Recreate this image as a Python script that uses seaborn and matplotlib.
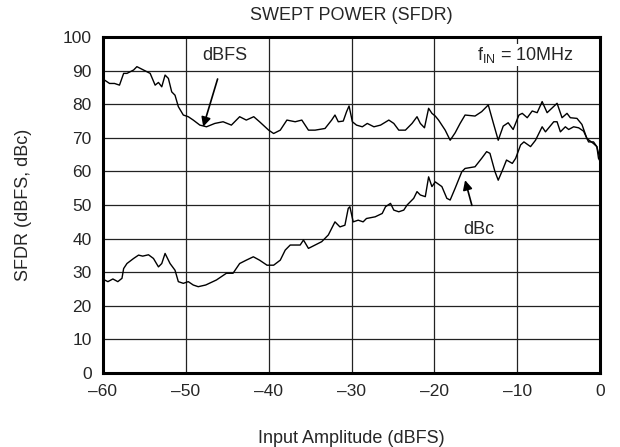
import numpy as np
import pandas as pd
import matplotlib
matplotlib.use('Agg')
import matplotlib.pyplot as plt
import seaborn as sns

# curve values
dbfs_x = [-60.0, -59.8, -59.2, -58.6, -58.0, -57.5, -57.1, -56.3, -55.9, -55.1,
          -54.3, -53.7, -53.3, -52.9, -52.5, -52.1, -51.7, -51.3, -50.9, -50.3,
          -49.7, -49.1, -48.3, -47.5, -46.5, -45.5, -44.5, -43.9, -43.5, -42.7,
          -41.8, -41.1, -40.0, -39.4, -38.6, -37.8, -36.8, -36.0, -35.2, -34.4,
          -33.2, -32.4, -32.0, -31.6, -31.0, -30.6, -30.3, -29.9, -29.4, -28.7,
          -28.1, -27.3, -26.5, -25.5, -24.9, -24.3, -23.5, -22.7, -22.1, -21.7,
          -21.2, -20.7, -20.3, -19.9, -19.5, -18.7, -18.1, -17.5, -16.9, -16.3,
          -15.1, -14.3, -13.5, -12.9, -12.3, -11.7, -11.1, -10.5, -9.8, -9.4,
          -8.8, -8.2, -7.6, -7.0, -6.4, -5.2, -4.6, -4.0, -3.6, -2.8,
          -2.2, -1.6, -0.8, -0.4, -0.1, 0.0]
dbfs_y = [87.5, 87.2, 86.2, 86.2, 85.7, 89.2, 89.2, 90.2, 91.2, 90.2,
          89.2, 85.7, 86.5, 85.2, 88.7, 87.7, 83.7, 82.7, 79.3, 76.8,
          76.3, 75.3, 73.8, 73.3, 74.3, 74.8, 73.8, 75.3, 76.3, 75.3,
          76.3, 74.8, 72.3, 71.3, 72.3, 75.3, 74.8, 75.3, 72.3, 72.3,
          72.8, 75.3, 76.8, 74.8, 75.0, 77.8, 79.5, 74.8, 73.8, 73.3,
          74.3, 73.3, 73.8, 75.3, 74.3, 72.3, 72.3, 74.3, 76.3, 74.3,
          73.0, 78.8, 77.3, 76.5, 75.3, 72.3, 69.3, 71.5, 74.3, 76.8,
          76.5, 77.8, 79.8, 74.5, 69.3, 73.5, 74.5, 72.5, 76.8, 77.3,
          76.0, 78.0, 77.5, 80.8, 77.5, 80.3, 76.0, 77.3, 76.0, 75.8,
          74.0, 69.8, 68.3, 67.4, 64.5, 63.5]

dbc_x = [-60.0, -59.8, -59.4, -58.8, -58.2, -57.7, -57.5, -57.1, -56.3, -55.7,
         -55.2, -54.5, -53.9, -53.3, -52.9, -52.5, -51.9, -51.3, -50.9, -50.3,
         -49.7, -49.1, -48.5, -47.6, -46.3, -45.1, -44.3, -43.5, -42.7, -41.85,
         -41.1, -40.2, -39.4, -38.6, -38.0, -37.4, -36.2, -35.8, -35.2, -33.6,
         -32.8, -32.0, -31.4, -30.8, -30.4, -30.2, -29.8, -29.2, -28.6, -28.2,
         -27.15, -26.3, -25.9, -25.3, -24.9, -24.3, -23.7, -23.3, -22.5, -22.1,
         -21.7, -21.1, -20.7, -20.3, -19.9, -19.1, -18.5, -18.1, -17.5, -16.7,
         -16.3, -15.1, -14.3, -13.7, -13.3, -12.7, -12.3, -11.7, -11.3, -10.6,
         -10.2, -9.6, -9.2, -8.4, -7.8, -7.0, -6.6, -5.6, -5.2, -4.8,
         -4.2, -3.8, -3.2, -2.6, -2.0, -1.4, -0.8, -0.4, -0.2, 0.0]
dbc_y = [28.0, 27.7, 27.2, 28.0, 27.2, 28.2, 31.1, 32.6, 34.1, 35.1,
         34.8, 35.2, 34.1, 31.6, 32.6, 35.6, 32.6, 30.6, 27.2, 26.7,
         27.2, 26.2, 25.7, 26.2, 27.7, 29.7, 29.7, 32.6, 33.6, 34.6,
         33.6, 32.1, 32.1, 33.6, 36.6, 38.1, 38.1, 39.6, 37.1, 39.1,
         41.1, 45.0, 43.5, 44.0, 49.0, 49.5, 45.0, 45.5, 45.0, 46.0,
         46.5, 47.5, 49.5, 50.5, 48.5, 48.0, 48.5, 50.0, 52.0, 54.0,
         53.0, 52.5, 58.4, 55.5, 56.9, 55.5, 52.0, 51.5, 55.0, 59.9,
         60.9, 61.4, 63.9, 65.9, 65.4, 60.0, 57.4, 60.9, 63.4, 62.4,
         63.9, 67.9, 68.8, 67.4, 69.3, 73.3, 71.8, 74.8, 74.8, 71.8,
         73.3, 72.5, 73.3, 73.0, 72.0, 68.8, 68.8, 67.4, 63.9, 63.0]

x_ticks = [-60, -50, -40, -30, -20, -10, 0]
x_tick_labels = ['\u201360', '\u201350', '\u201340', '\u201330', '\u201320', '\u201310', '0']
y_ticks = [0, 10, 20, 30, 40, 50, 60, 70, 80, 90, 100]

df = pd.concat([
    pd.DataFrame({'amp': dbfs_x, 'sfdr': dbfs_y, 'curve': 'dBFS'}),
    pd.DataFrame({'amp': dbc_x, 'sfdr': dbc_y, 'curve': 'dBc'}),
])

sns.set_style('white')
plt.rcParams['font.family'] = ['Liberation Sans', 'DejaVu Sans']

fig = plt.figure(figsize=(6.2, 4.47), dpi=100)
ax = fig.add_axes([0.166, 0.1655, 0.802, 0.7515])

sns.lineplot(data=df, x='amp', y='sfdr', units='curve', estimator=None, sort=False,
             color='black', linewidth=1.0, ax=ax, legend=False)

ax.set_xlim(-60, 0)
ax.set_ylim(0, 100)
ax.set_xticks(x_ticks)
ax.set_xticklabels(x_tick_labels)
ax.set_yticks(y_ticks)
ax.tick_params(length=0, labelsize=12.5, pad=8)
ax.grid(True, color='#222222', linewidth=0.9)
for s in ax.spines.values():
    s.set_color('black')
    s.set_linewidth(2.2)

ax.set_title('SWEPT POWER (SFDR)', fontsize=13, pad=12)
ax.set_xlabel('Input Amplitude (dBFS)', fontsize=13, labelpad=22)
ax.set_ylabel('SFDR (dBFS, dBc)', fontsize=13, labelpad=22)

ax.annotate('dBFS', xy=(-47.9, 73.3), xytext=(-45.3, 94.6), fontsize=13,
            ha='center', va='center',
            arrowprops=dict(arrowstyle='-|>', color='black', lw=1.2,
                            mutation_scale=14, shrinkA=9, shrinkB=0))
ax.annotate('dBc', xy=(-16.3, 57.4), xytext=(-14.7, 42.8), fontsize=13,
            ha='center', va='center',
            arrowprops=dict(arrowstyle='-|>', color='black', lw=1.2,
                            mutation_scale=14, shrinkA=9, shrinkB=0))
ax.text(-3.2, 94.6, r'f$_{\mathregular{IN}}$ = 10MHz', fontsize=13,
        ha='right', va='center',
        bbox=dict(boxstyle='square,pad=0.05', fc='white', ec='none'))

fig.savefig('out.png', dpi=100)
